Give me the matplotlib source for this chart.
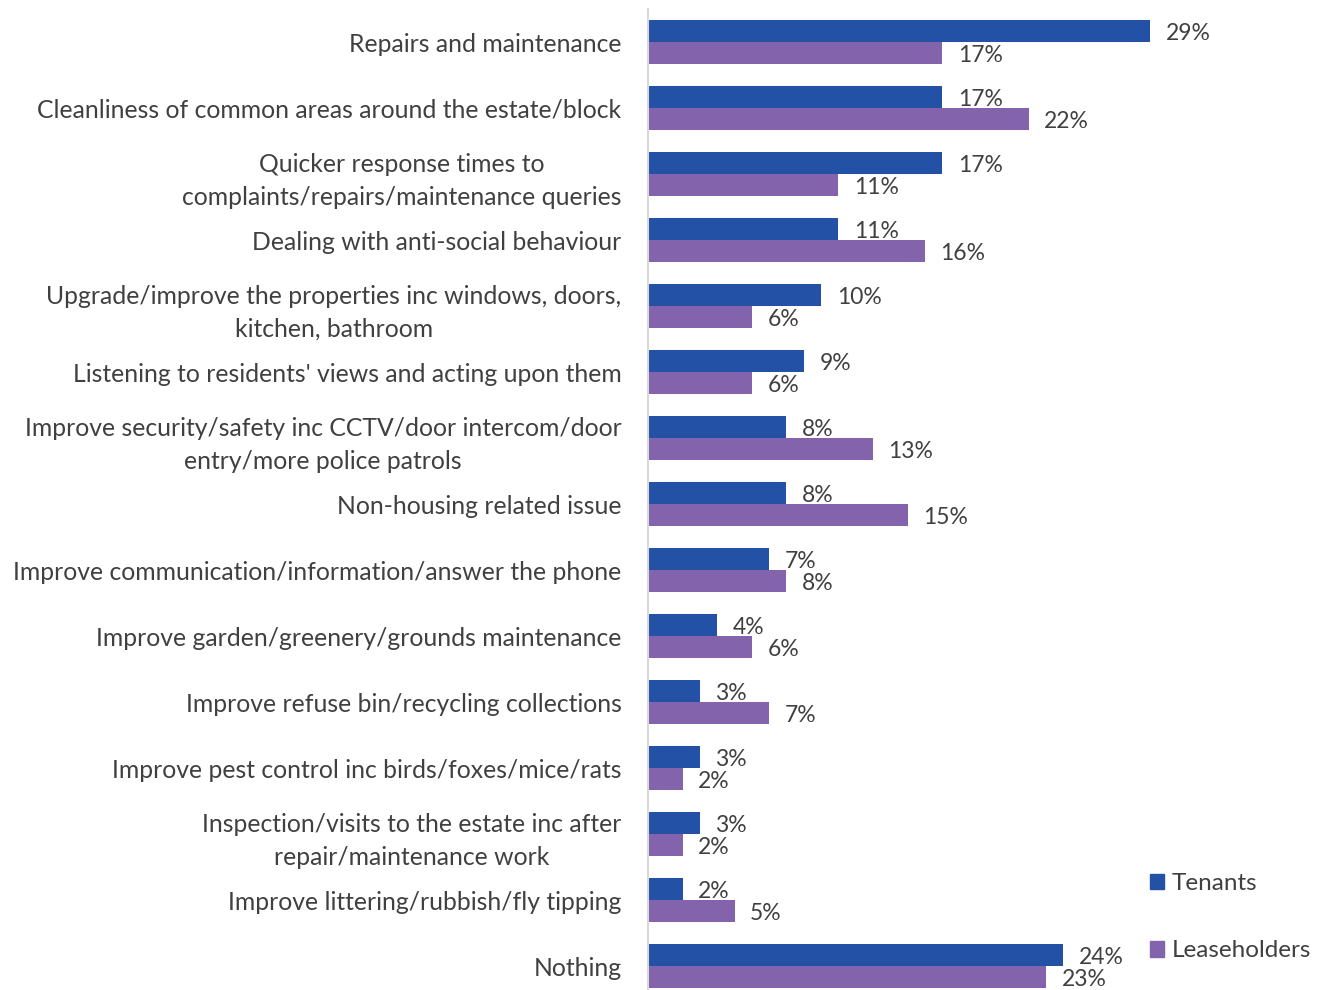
import matplotlib
matplotlib.use("Agg")
import matplotlib.pyplot as plt
import numpy as np
from matplotlib.patches import Patch

categories = [
    "Repairs and maintenance",
    "Cleanliness of common areas around the estate/block",
    "Quicker response times to\ncomplaints/repairs/maintenance queries",
    "Dealing with anti-social behaviour",
    "Upgrade/improve the properties inc windows, doors,\nkitchen, bathroom",
    "Listening to residents' views and acting upon them",
    "Improve security/safety inc CCTV/door intercom/door\nentry/more police patrols",
    "Non-housing related issue",
    "Improve communication/information/answer the phone",
    "Improve garden/greenery/grounds maintenance",
    "Improve refuse bin/recycling collections",
    "Improve pest control inc birds/foxes/mice/rats",
    "Inspection/visits to the estate inc after\nrepair/maintenance work",
    "Improve littering/rubbish/fly tipping",
    "Nothing",
]
tenants = [29, 17, 17, 11, 10, 9, 8, 8, 7, 4, 3, 3, 3, 2, 24]
leaseholders = [17, 22, 11, 16, 6, 6, 13, 15, 8, 6, 7, 2, 2, 5, 23]
series_names = ["Tenants", "Leaseholders"]

BLUE = "#2251A5"
PURPLE = "#8463AD"
TEXT = "#404040"
FONT = "Lato"
FS_CAT = 17.8
FS_VAL = 16.5
FS_LEG = 17.5

plt.rcParams["font.family"] = [FONT, "DejaVu Sans"]

fig = plt.figure(figsize=(13.17, 9.9), dpi=100)
ax = fig.add_axes([0.492, -0.0091, 0.46, 1.0])

y = np.arange(len(categories))
h = 1 / 3
ax.barh(y - h / 2, tenants, height=h, color=BLUE, label=series_names[0])
ax.barh(y + h / 2, leaseholders, height=h, color=PURPLE, label=series_names[1])

for yi, v in zip(y - h / 2, tenants):
    ax.text(v + 0.9, yi, f"{v}%", va="center_baseline", ha="left",
            fontsize=FS_VAL, color=TEXT)
for yi, v in zip(y + h / 2, leaseholders):
    ax.text(v + 0.9, yi, f"{v}%", va="center_baseline", ha="left",
            fontsize=FS_VAL, color=TEXT)

ax.set_ylim(len(categories) - 0.5, -0.5)
ax.set_xlim(0, 35)
ax.set_yticks(y)
ax.set_yticklabels(categories, fontsize=FS_CAT, color=TEXT)
for lbl in ax.get_yticklabels():
    lbl.set_multialignment("center")
    lbl.set_linespacing(1.52)
ax.tick_params(axis="y", length=0, pad=19)
ax.set_xticks([])

for side in ["top", "right", "bottom"]:
    ax.spines[side].set_visible(False)
ax.spines["left"].set_color("#D9D9D9")
ax.spines["left"].set_linewidth(1.5)

handles = [Patch(color=BLUE), Patch(color=PURPLE)]
fig.legend(handles, series_names, loc="upper left", bbox_to_anchor=(0.873, 0.118),
           frameon=False, fontsize=FS_LEG, labelcolor=TEXT,
           handlelength=0.6, handleheight=0.6, handletextpad=0.3,
           labelspacing=1.9, borderaxespad=0, borderpad=0)

fig.savefig("out.png", dpi=100)
